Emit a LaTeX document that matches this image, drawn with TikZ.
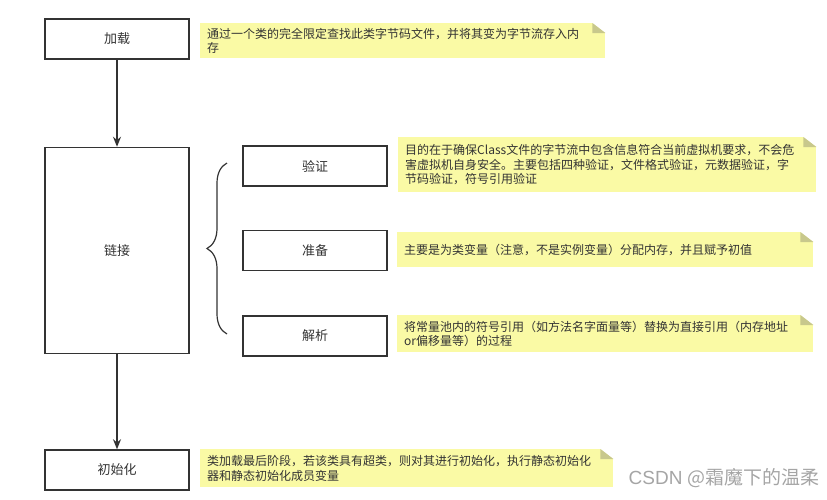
\documentclass[tikz,border=0pt]{standalone}
\usepackage{fontspec}
\setmainfont{Noto Sans CJK SC}
\newfontfamily\wmfont{Liberation Sans}
\usetikzlibrary{arrows.meta,positioning,calc,decorations.pathreplacing}
\definecolor{boxline}{RGB}{51,51,51}
\definecolor{txtgray}{RGB}{51,51,51}
\definecolor{notefill}{RGB}{250,250,165}
\definecolor{notefold}{RGB}{200,200,140}
\definecolor{wmgray}{RGB}{165,165,165}
\tikzset{
  stagebox/.style={draw=boxline, line width=1.5pt, fill=white, minimum width=144pt,
                   minimum height=40pt, font=\fontsize{13}{15}\selectfont, text=txtgray},
  notebox/.style={fill=notefill, anchor=north west, inner xsep=7pt, inner ysep=3pt,
                  align=left, font=\fontsize{12}{14.5}\selectfont, text=txtgray},
  flowarr/.style={-{Stealth[length=10pt,width=8pt]}, boxline, line width=1.5pt},
  brc/.style={decorate, decoration={brace, amplitude=20pt}, boxline, line width=1.2pt},
}

\begin{document}
\begin{tikzpicture}[x=1pt,y=-1pt]
  \useasboundingbox (0,0) rectangle (827,499);
  % main stages
  \node[stagebox] (jz) at (117,39) {加载};
  \node[stagebox, minimum height=206pt, below=87pt of jz] (lj) {链接};
  \node[stagebox, below=95pt of lj] (csh) {初始化};
  \draw[flowarr] (jz) -- (lj);
  \draw[flowarr] (lj) -- (csh);
  % sub steps of linking
  \node[stagebox] (yz) at (315,166) {验证};
  \node[stagebox, below=43pt of yz] (zb) {准备};
  \node[stagebox, below=44pt of zb] (jx) {解析};
  \coordinate (brcTop) at (227,163);
  \coordinate (brcBot) at (227,334);
  \draw[brc] (brcBot) -- (brcTop);
  % notes
  \node[notebox, text width=391pt, minimum height=35pt] (jzNote) at (200,23)
    {通过一个类的完全限定查找此类字节码文件，并将其变为字节流存入内\\存};
  \node[notebox, text width=404pt, minimum height=55pt] (yzNote) at (398,137)
    {目的在于确保Class文件的字节流中包含信息符合当前虚拟机要求，不会危\\
     害虚拟机自身安全。主要包括四种验证，文件格式验证，元数据验证，字\\
     节码验证，符号引用验证};
  \node[notebox, text width=402pt, minimum height=35pt] (zbNote) at (397,232)
    {主要是为类变量（注意，不是实例变量）分配内存，并且赋予初值};
  \node[notebox, text width=402pt, minimum height=37pt] (jxNote) at (397,315)
    {将常量池内的符号引用（如方法名字面量等）替换为直接引用（内存地址\\or偏移量等）的过程};
  \node[notebox, text width=399pt, minimum height=38pt] (cshNote) at (200,449)
    {类加载最后阶段，若该类具有超类，则对其进行初始化，执行静态初始化\\器和静态初始化成员变量};
  \foreach \n in {jzNote,yzNote,zbNote,jxNote,cshNote}{
    \fill[white] ([xshift=-13pt]\n.north east) -- (\n.north east)
      -- ([yshift=-10pt]\n.north east) -- cycle;
    \fill[notefold] ([xshift=-13pt]\n.north east) -- ([yshift=-10pt]\n.north east)
      -- ([xshift=-13pt,yshift=-10pt]\n.north east) -- cycle;
  }
  % watermark
  \node[anchor=east, text=wmgray, font=\fontsize{19}{22}\selectfont, inner sep=0pt] (wm) at (820,478)
    {{\wmfont CSDN }@霜魔下的温柔};
\end{tikzpicture}
\end{document}
